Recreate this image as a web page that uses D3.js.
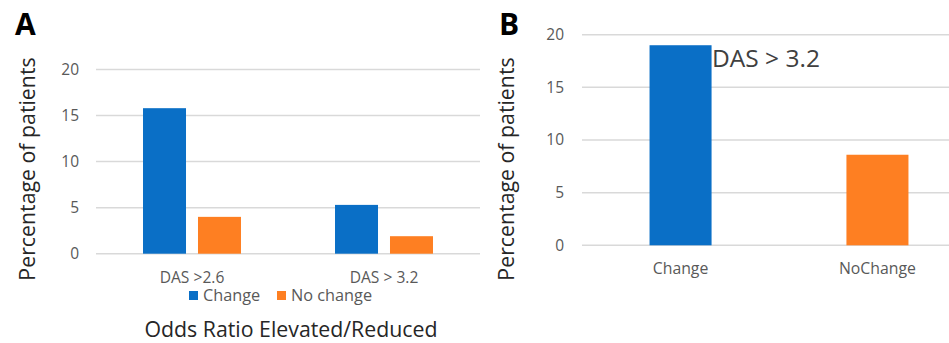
<!DOCTYPE html>
<html><head><meta charset="utf-8">
<script src="https://cdn.jsdelivr.net/npm/d3@7"></script>
<style>body{margin:0;background:#fff}svg{display:block}text{font-family:"Open Sans",sans-serif}</style>
</head><body>
<script>
// Panel A data
const catsA = ["DAS >2.6", "DAS > 3.2"];
const seriesA = ["Change", "No change"];
const changeA = [15.8, 5.3];
const noChangeA = [4.0, 1.9];
// Panel B data
const catsB = ["Change", "NoChange"];
const valuesB = [19.0, 8.6];
const ticks = [0, 5, 10, 15, 20];
const colors = ["#0a6fc6", "#fe7f22"];

const W = 949, H = 343;
const svg = d3.select("body").append("svg").attr("width", W).attr("height", H);
const grid = "#d9d9d9", tickCol = "#595959";

// ---------- Panel A ----------
const gA = svg.append("g");
const xA = d3.scaleBand().domain(catsA).range([96, 480]);
const yA = d3.scaleLinear().domain([0, 20]).range([253.7, 69.5]);
const x1 = d3.scaleBand().domain(seriesA).range([0, xA.bandwidth()]).paddingInner(0.218).paddingOuter(0.855);

gA.append("g").selectAll("line").data(ticks).join("line")
  .attr("x1", 96).attr("x2", 480).attr("y1", d => yA(d)).attr("y2", d => yA(d))
  .attr("stroke", grid).attr("stroke-width", 1.5);
gA.append("g").selectAll("text").data(ticks).join("text")
  .attr("x", 79).attr("y", d => yA(d)).attr("dy", "0.35em").attr("text-anchor", "end")
  .attr("fill", tickCol).attr("font-size", 15.5).text(d => d);

const rowsA = catsA.map((c, i) => ({c, vals: [changeA[i], noChangeA[i]]}));
gA.append("g").selectAll("g").data(rowsA).join("g")
  .attr("transform", d => `translate(${xA(d.c)},0)`)
  .selectAll("rect").data(d => d.vals.map((v, j) => ({s: seriesA[j], v, j}))).join("rect")
  .attr("x", d => x1(d.s)).attr("width", x1.bandwidth())
  .attr("y", d => yA(d.v)).attr("height", d => yA(0) - yA(d.v))
  .attr("fill", d => colors[d.j]);

gA.append("g").selectAll("text").data(catsA).join("text")
  .attr("x", d => xA(d) + xA.bandwidth() / 2).attr("y", 278).attr("dy", "0.35em")
  .attr("text-anchor", "middle").attr("fill", tickCol).attr("font-size", 15.6).text(d => d);

// legend
const legX = [189, 277];
seriesA.forEach((s, i) => {
  gA.append("rect").attr("x", legX[i]).attr("y", 291).attr("width", 9).attr("height", 9).attr("fill", colors[i]);
  gA.append("text").attr("x", legX[i] + 14).attr("y", 295.5).attr("dy", "0.35em")
    .attr("fill", tickCol).attr("font-size", 16.3).text(s);
});

gA.append("text").attr("x", 291).attr("y", 329.5).attr("dy", "0.35em").attr("text-anchor", "middle")
  .attr("fill", "#262626").attr("font-size", 21.3).text("Odds Ratio Elevated/Reduced");
gA.append("text").attr("transform", "translate(28,169) rotate(-90)").attr("dy", "0.35em")
  .attr("text-anchor", "middle").attr("fill", "#262626").attr("font-size", 21.3).text("Percentage of patients");
gA.append("text").attr("x", 15).attr("y", 35).attr("font-family", "Liberation Sans, Arial, sans-serif")
  .attr("font-weight", "bold").attr("font-size", 30).attr("fill", "#000").text("A");

// ---------- Panel B ----------
const gB = svg.append("g");
const xB = d3.scaleBand().domain(catsB).range([582, 976]).paddingInner(0.685).paddingOuter(0.343);
const yB = d3.scaleLinear().domain([0, 20]).range([245.3, 34.7]);

gB.append("g").selectAll("line").data(ticks).join("line")
  .attr("x1", 582).attr("x2", W).attr("y1", d => yB(d)).attr("y2", d => yB(d))
  .attr("stroke", grid).attr("stroke-width", 1.5);
gB.append("g").selectAll("text").data(ticks).join("text")
  .attr("x", 564).attr("y", d => yB(d)).attr("dy", "0.35em").attr("text-anchor", "end")
  .attr("fill", tickCol).attr("font-size", 15.5).text(d => d);

gB.append("g").selectAll("rect").data(catsB.map((c, i) => ({c, v: valuesB[i], i}))).join("rect")
  .attr("x", d => xB(d.c)).attr("width", xB.bandwidth())
  .attr("y", d => yB(d.v)).attr("height", d => yB(0) - yB(d.v))
  .attr("fill", d => colors[d.i]);

gB.append("g").selectAll("text").data(catsB).join("text")
  .attr("x", d => xB(d) + xB.bandwidth() / 2).attr("y", 268).attr("dy", "0.35em")
  .attr("text-anchor", "middle").attr("fill", tickCol).attr("font-size", 15.8).text(d => d);

gB.append("text").attr("x", 712).attr("y", 58.5).attr("dy", "0.35em")
  .attr("fill", "#404040").attr("font-size", 24.5).text("DAS > 3.2");

gB.append("text").attr("transform", "translate(507,169) rotate(-90)").attr("dy", "0.35em")
  .attr("text-anchor", "middle").attr("fill", "#262626").attr("font-size", 21.3).text("Percentage of patients");
gB.append("text").attr("x", 499).attr("y", 35).attr("font-family", "Liberation Sans, Arial, sans-serif")
  .attr("font-weight", "bold").attr("font-size", 30).attr("fill", "#000").text("B");
</script>
</body></html>
